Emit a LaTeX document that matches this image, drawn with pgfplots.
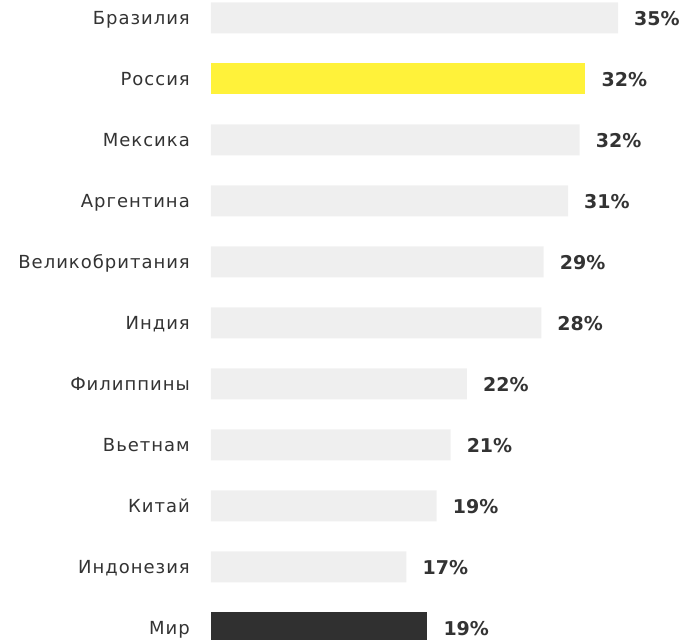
\documentclass[border=0pt]{standalone}
\usepackage{fontspec}
\setmainfont{DejaVu Sans}
\newfontfamily\labfont[LetterSpace=5.5]{DejaVu Sans}
\usepackage{pgfplots}
\pgfplotsset{compat=1.18}

\definecolor{txt}{HTML}{333333}
\definecolor{barGrey}{HTML}{EFEFEF}
\definecolor{barYellow}{HTML}{FFF23A}
\definecolor{barDark}{HTML}{303030}

% row index (0 = top), bar length, printed percent
\pgfplotstableread{
k val pct
0 35.0 35
2 31.7 32
3 30.7 31
4 28.6 29
5 28.4 28
6 22.0 22
7 20.6 21
8 19.4 19
9 16.8 17
}\grey
\pgfplotstableread{
k val pct
1 32.2 32
}\russia
\pgfplotstableread{
k val pct
10 18.6 19
}\world

\begin{document}
\begin{tikzpicture}
\begin{axis}[
  at={(0,0)}, anchor=south west,
  scale only axis,
  width=471bp, height=640bp,
  xbar, bar width=31bp, bar shift=0pt,
  xmin=0, xmax=40.5,
  ymin=-0.295, ymax=10.197,
  y dir=reverse,
  axis line style={draw=none},
  xtick=\empty,
  ytick={0,...,10},
  yticklabels={Бразилия,Россия,Мексика,Аргентина,Великобритания,Индия,Филиппины,Вьетнам,Китай,Индонезия,Мир},
  major tick length=0pt,
  yticklabel style={font=\labfont\fontsize{18bp}{21bp}\selectfont, text=txt, anchor=base east, inner sep=0pt, xshift=-21bp, yshift=-7bp},
  point meta=explicit symbolic,
  nodes near coords={\pgfplotspointmeta\%},
  every node near coord/.append style={font=\bfseries\fontsize{19bp}{23bp}\selectfont, text=txt, anchor=base west, inner sep=0pt, xshift=16bp, yshift=-7.5bp},
]
\addplot[fill=barGrey, draw=none] table[x=val, y=k, meta=pct] {\grey};
\addplot[fill=barYellow, draw=none] table[x=val, y=k, meta=pct] {\russia};
\addplot[fill=barDark, draw=none] table[x=val, y=k, meta=pct] {\world};
\end{axis}
\pgfresetboundingbox
\path (-211bp,0) rectangle (471bp,640bp);
\end{tikzpicture}
\end{document}
